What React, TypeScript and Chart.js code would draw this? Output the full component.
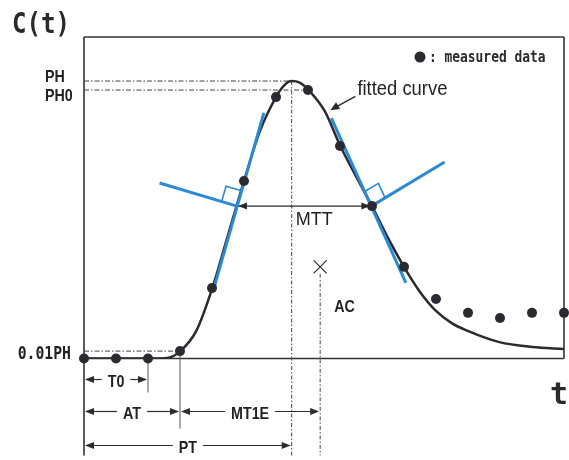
import React, { useEffect, useRef } from "react";
import { Chart, registerables } from "chart.js";

Chart.register(...registerables);

// ---- data (time in sample units, concentration in % of plot height) ----
const sampleTimes = [0, 1, 2, 3, 4, 5, 6, 7, 8, 9, 10, 11, 12, 13, 14, 15];
const measuredC = [0, 0, 0, 2.3, 21.9, 55.2, 81.3, 83.5, 66.1, 47.4, 28.5, 18.5, 14.2, 12.6, 14.2, 14.2];

const fitTimes = [0, 2.36, 2.61, 3.01, 3.51, 4.01, 4.5, 5.0, 5.5, 6.0, 6.24, 6.49, 6.74, 7.02, 7.52, 8.01, 8.51, 9.0, 9.5, 10.0, 10.5, 11.0, 11.49, 11.99, 12.98, 14.01, 15.0];
const fitC = [0, 0, 0.15, 2.3, 8.6, 21.9, 38.4, 55.2, 70.8, 81.3, 84.8, 86.3, 85.8, 83.5, 77.0, 66.1, 56.5, 47.4, 37.5, 28.5, 20.7, 14.8, 11.0, 8.6, 5.1, 3.6, 2.95];

const PH = 86.3;
const PH0 = 83.5;
const PH_1PCT = 2.3;
const T0 = 2.0;
const AT = 3.0;
const PT = 6.49;
const AC_T = 7.38;
const AC_C = 28.5;
const MTT_START = 4.78;
const MTT_END = 8.98;
const MTT_LEVEL = 47.4;

const leftTangentT = [5.62, 4.07];
const leftTangentC = [76.4, 22.2];
const leftNormalT = [2.36, 4.78];
const leftNormalC = [54.6, 47.4];
const rightTangentT = [7.73, 10.06];
const rightTangentC = [74.8, 23.5];
const rightNormalT = [8.98, 11.27];
const rightNormalC = [47.4, 61.1];

const fittedArrowTip = { t: 7.7, c: 77.2 };

const X_MAX = 15;
const Y_MAX = 100;

const INK = "#2a2a30";
const BLUE = "#2b8ad3";
const GOTHIC = '"DejaVu Sans Mono"';
const SANS = '"Liberation Sans", Arial, sans-serif';

const zip = (xs: number[], ys: number[]) => xs.map((x, i) => ({ x, y: ys[i] }));

function txt(ctx: CanvasRenderingContext2D, s: string, x: number, y: number, font: string, sx = 1, align: CanvasTextAlign = "left", color = "#222") {
  ctx.save();
  ctx.translate(x, y);
  ctx.scale(sx, 1);
  ctx.font = font;
  ctx.textAlign = align;
  ctx.textBaseline = "alphabetic";
  ctx.fillStyle = color;
  ctx.fillText(s, 0, 0);
  ctx.restore();
}
function measure(ctx: CanvasRenderingContext2D, s: string, font: string, sx = 1) {
  ctx.save();
  ctx.font = font;
  const w = ctx.measureText(s).width * sx;
  ctx.restore();
  return w;
}
function line(ctx: CanvasRenderingContext2D, x1: number, y1: number, x2: number, y2: number, color = INK, w = 1, dash: number[] = []) {
  ctx.save();
  ctx.strokeStyle = color;
  ctx.lineWidth = w;
  ctx.setLineDash(dash);
  ctx.beginPath();
  ctx.moveTo(x1, y1);
  ctx.lineTo(x2, y2);
  ctx.stroke();
  ctx.restore();
}
function head(ctx: CanvasRenderingContext2D, tx: number, ty: number, dx: number, dy: number, len = 9, half = 3.5, color = INK) {
  const l = Math.hypot(dx, dy);
  const ux = dx / l, uy = dy / l;
  const bx = tx - ux * len, by = ty - uy * len;
  ctx.save();
  ctx.fillStyle = color;
  ctx.beginPath();
  ctx.moveTo(tx, ty);
  ctx.lineTo(bx - uy * half, by + ux * half);
  ctx.lineTo(bx + uy * half, by - ux * half);
  ctx.closePath();
  ctx.fill();
  ctx.restore();
}

const GFONT = `bold 17px ${SANS}`;
const GSX = 0.84;
const MFONT = `bold 18px ${GOTHIC}`;
const MSX = 0.82;

function dim(ctx: CanvasRenderingContext2D, x1: number, x2: number, yy: number, label: string) {
  const w = measure(ctx, label, GFONT, GSX);
  const mid = (x1 + x2) / 2;
  const gap = 6;
  line(ctx, x1 + 2, yy, mid - w / 2 - gap, yy, INK, 1.2);
  line(ctx, mid + w / 2 + gap, yy, x2 - 2, yy, INK, 1.2);
  head(ctx, x1 + 1, yy, -1, 0);
  head(ctx, x2 - 1, yy, 1, 0);
  txt(ctx, label, mid, yy + 7, GFONT, GSX, "center");
}

function square(ctx: CanvasRenderingContext2D, px: number, py: number, ax: number, ay: number, bx: number, by: number, s = 16) {
  const la = Math.hypot(ax - px, ay - py), lb = Math.hypot(bx - px, by - py);
  const ux = (ax - px) / la, uy = (ay - py) / la;
  const nx = (bx - px) / lb, ny = (by - py) / lb;
  ctx.save();
  ctx.strokeStyle = BLUE;
  ctx.lineWidth = 1.6;
  ctx.beginPath();
  ctx.moveTo(px + ux * s, py + uy * s);
  ctx.lineTo(px + ux * s + nx * s, py + uy * s + ny * s);
  ctx.lineTo(px + nx * s, py + ny * s);
  ctx.stroke();
  ctx.restore();
}

const annotate = {
  id: "annotate",
  beforeDatasetsDraw(chart: any) {
    const { ctx, chartArea: a, scales } = chart;
    const X = (v: number) => scales.x.getPixelForValue(v);
    const Y = (v: number) => scales.y.getPixelForValue(v);
    const bottomExt = a.bottom + 97;
    const dd = [5, 2, 1.5, 2];
    // frame
    line(ctx, a.left, a.top, a.right, a.top, "#333", 1.6);
    line(ctx, a.right, a.top, a.right, a.bottom, "#333", 1.6);
    line(ctx, a.left, a.bottom, a.right, a.bottom, "#333", 1.6);
    line(ctx, a.left, a.top, a.left, bottomExt, "#333", 1.6);
    // dash-dot reference lines
    line(ctx, a.left, Y(PH), X(PT), Y(PH), "#444", 1, dd);
    line(ctx, a.left, Y(PH0), X(sampleTimes[7]), Y(PH0), "#444", 1, dd);
    line(ctx, a.left, Y(PH_1PCT), X(AT), Y(PH_1PCT), "#444", 1, dd);
    line(ctx, X(PT), Y(PH), X(PT), bottomExt, "#444", 1, [4, 2, 1.5, 2]);
    line(ctx, X(AC_T), Y(AC_C) + 7, X(AC_T), bottomExt, "#444", 1, [4, 2, 1.5, 2]);
    // extension lines
    line(ctx, X(T0), Y(0), X(T0), a.bottom + 34, "#555", 1);
    line(ctx, X(AT), Y(PH_1PCT), X(AT), a.bottom + 70, "#555", 1);
  },
  afterDatasetsDraw(chart: any) {
    const { ctx, chartArea: a, scales } = chart;
    const X = (v: number) => scales.x.getPixelForValue(v);
    const Y = (v: number) => scales.y.getPixelForValue(v);
    // right-angle markers
    square(ctx, X(MTT_START), Y(MTT_LEVEL), X(leftTangentT[0]), Y(leftTangentC[0]), X(leftNormalT[0]), Y(leftNormalC[0]));
    square(ctx, X(MTT_END), Y(MTT_LEVEL), X(rightTangentT[0]), Y(rightTangentC[0]), X(rightNormalT[1]), Y(rightNormalC[1]));
    // MTT arrow
    const my = Y(MTT_LEVEL);
    line(ctx, X(MTT_START) + 2, my, X(MTT_END) - 2, my, INK, 1.2);
    head(ctx, X(MTT_START) + 1, my, -1, 0);
    head(ctx, X(MTT_END) - 1, my, 1, 0);
    txt(ctx, "MTT", X(PT) + 4, my + 19, `18px ${SANS}`, 1, "left", "#222");
    // AC cross
    const cx = X(AC_T), cy = Y(AC_C), h = 6.5;
    line(ctx, cx - h, cy - h, cx + h, cy + h, INK, 1.2);
    line(ctx, cx - h, cy + h, cx + h, cy - h, INK, 1.2);
    txt(ctx, "AC", cx + 14, cy + 45, GFONT, GSX);
    // dimension rows
    dim(ctx, X(0), X(T0), a.bottom + 21, "T0");
    dim(ctx, X(0), X(AT), a.bottom + 53, "AT");
    dim(ctx, X(AT), X(AC_T), a.bottom + 53, "MT1E");
    dim(ctx, X(0), X(PT), a.bottom + 87, "PT");
    // y labels
    txt(ctx, "PH", a.left - 39, Y(PH) + 1, GFONT, GSX);
    txt(ctx, "PH0", a.left - 39, Y(PH0) + 11, GFONT, GSX);
    txt(ctx, "0.01PH", a.left - 13, Y(0) + 0.5, MFONT, MSX, "right");
    // axis titles
    txt(ctx, "C(t)", a.left - 72, a.top - 4, `bold 29px ${GOTHIC}`, 0.83, "left", "#2a2a2a");
    txt(ctx, "t", a.right - 14, a.bottom + 45, `bold 30px ${GOTHIC}`, 1, "left", "#2a2a2a");
    // fitted curve label + arrow
    const tipX = X(fittedArrowTip.t), tipY = Y(fittedArrowTip.c);
    const lx = tipX + 25, ly = tipY - 15;
    txt(ctx, "fitted curve", lx + 2, ly, `20px ${SANS}`, 0.92, "left", "#222");
    line(ctx, lx, ly + 1, tipX + 3, tipY - 2, INK, 1.4);
    head(ctx, tipX, tipY, tipX - lx, tipY - ly, 9, 4);
    // legend
    ctx.save();
    ctx.fillStyle = INK;
    ctx.beginPath();
    ctx.arc(a.right - 144, a.top + 20, 5.5, 0, Math.PI * 2);
    ctx.fill();
    ctx.restore();
    txt(ctx, ": measured data", a.right - 135, a.top + 24.5, `bold 15px ${GOTHIC}`, 0.86, "left", "#2a2a2a");
  },
};

export default function App() {
  const ref = useRef<HTMLCanvasElement | null>(null);
  useEffect(() => {
    if (!ref.current) return;
    const chart = new Chart(ref.current, {
      type: "line",
      data: {
        datasets: [
          {
            data: zip(sampleTimes, measuredC),
            showLine: false,
            pointRadius: 5,
            pointBackgroundColor: INK,
            pointBorderWidth: 0,
            clip: false,
            order: 0,
          } as any,
          { data: zip(leftTangentT, leftTangentC), borderColor: BLUE, borderWidth: 3, pointRadius: 0, order: 1 },
          { data: zip(leftNormalT, leftNormalC), borderColor: BLUE, borderWidth: 3, pointRadius: 0, order: 1 },
          { data: zip(rightTangentT, rightTangentC), borderColor: BLUE, borderWidth: 3, pointRadius: 0, order: 1 },
          { data: zip(rightNormalT, rightNormalC), borderColor: BLUE, borderWidth: 3, pointRadius: 0, order: 1 },
          {
            data: zip(fitTimes, fitC),
            borderColor: INK,
            borderWidth: 2.5,
            pointRadius: 0,
            cubicInterpolationMode: "monotone",
            order: 2,
          },
        ],
      },
      options: {
        animation: false,
        responsive: false,
        devicePixelRatio: 1,
        events: [],
        layout: { padding: { left: 84, top: 37, right: 2, bottom: 101.5 } },
        scales: {
          x: { type: "linear", min: 0, max: X_MAX, display: false },
          y: { type: "linear", min: 0, max: Y_MAX, display: false },
        },
        plugins: { legend: { display: false }, tooltip: { enabled: false } },
      },
      plugins: [annotate],
    });
    return () => chart.destroy();
  }, []);
  return (
    <div style={{ position: "fixed", left: 0, top: 0, width: 569, height: 460, background: "#fff" }}>
      <canvas ref={ref} width={569} height={460} style={{ display: "block" }} />
    </div>
  );
}
